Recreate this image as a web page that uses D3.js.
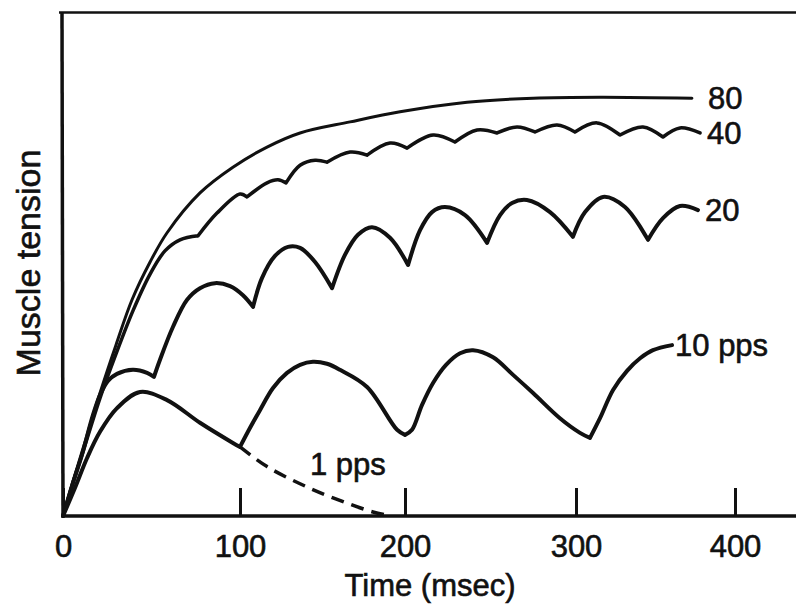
<!DOCTYPE html>
<html>
<head>
<meta charset="utf-8">
<script src="https://cdn.jsdelivr.net/npm/d3@7"></script>
<style>
    body { margin: 0; background: #fff; }
    text { font-family: "Liberation Sans", Arial, sans-serif; fill: #111; stroke: #111; stroke-width: 0.6px; }
</style>
</head>
<body>
<div id="chart-area"></div>
<script>
// time axis (msec)
const timeTicks = [0, 100, 200, 300, 400]

// muscle tension traces, [time msec, tension in arbitrary units]
// each inner list runs from one stimulus cusp to the next
const tension80 = [
    [[0, 0], [5.1, 6.2], [10.7, 12.7], [20.9, 24.4], [29.9, 33.9], [39.0, 42.9], [49.2, 50.4], [58.8, 56.2],
     [77.4, 64.1], [96.0, 69.2], [116.4, 73.2], [136.4, 76.0], [166.7, 78.2], [197.0, 80.2], [236.3, 82.1],
     [274.9, 82.9], [315.1, 83.1], [372.9, 82.9]]
]
const tension40 = [
    [[0, 0], [5.1, 6.0], [10.7, 12.1], [20.9, 23.4], [29.9, 32.1], [39.5, 40.7], [49.2, 48.0], [57.6, 52.6], [66.1, 54.8], [76.3, 55.6]],
    [[76.3, 55.6], [87.0, 60.1], [100.0, 63.9], [104.2, 63.3]],
    [[104.2, 63.3], [116.4, 66.1], [123.0, 66.7], [127.9, 66.1]],
    [[127.9, 66.1], [136.4, 69.6], [145.5, 70.6], [152.7, 70.2]],
    [[152.7, 70.2], [166.7, 72.2], [177.0, 71.6]],
    [[177.0, 71.6], [190.9, 74.0], [201.2, 73.0]],
    [[201.2, 73.0], [216.4, 75.6], [229.2, 74.2]],
    [[229.2, 74.2], [242.1, 76.6], [253.8, 76.0]],
    [[253.8, 76.0], [265.5, 77.2], [276.0, 76.2]],
    [[276.0, 76.2], [288.9, 77.6], [299.4, 76.2]],
    [[299.4, 76.2], [313.2, 78.0], [327.7, 75.6]],
    [[327.7, 75.6], [342.1, 77.2], [354.7, 75.2]],
    [[354.7, 75.2], [365.4, 77.0], [378.0, 76.0]]
]
const tension20 = [
    [[0, 0], [5.1, 6.0], [10.7, 12.1], [16.9, 20.0], [20.9, 24.0], [25.4, 26.8], [30.5, 28.2], [39.5, 29.0], [47.5, 28.4], [51.4, 27.6]],
    [[51.4, 27.6], [54.8, 31.0], [62.1, 37.5], [70.1, 42.9], [77.4, 45.2], [85.9, 46.2], [94.4, 45.6], [101.8, 43.8], [107.9, 41.5]],
    [[107.9, 41.5], [113.3, 47.2], [121.2, 51.6], [129.1, 53.4], [136.4, 53.2], [145.5, 50.4], [155.8, 45.2]],
    [[155.8, 45.2], [163.6, 51.8], [171.5, 55.8], [180.0, 57.3], [190.9, 55.2], [201.8, 49.8]],
    [[201.8, 49.8], [208.8, 56.7], [215.8, 60.3], [223.4, 61.3], [235.1, 59.7], [248.0, 54.2]],
    [[248.0, 54.2], [255.6, 59.7], [262.6, 62.1], [271.3, 62.7], [284.8, 60.3], [298.2, 55.4]],
    [[298.2, 55.4], [305.7, 60.3], [317.0, 63.3], [330.8, 61.3], [345.3, 54.8]],
    [[345.3, 54.8], [354.7, 59.1], [365.4, 61.5], [376.7, 60.7]]
]
const tension10 = [
    [[0, 0], [6.8, 5.6], [13.6, 11.5], [20.9, 16.7], [30.5, 21.4], [43.5, 24.6], [58.8, 23.0], [77.4, 18.5], [96.0, 14.5], [100.0, 13.7]],
    [[100.0, 13.7], [106.1, 17.5], [112.1, 21.0], [120.0, 25.4], [128.5, 28.4], [136.4, 30.0], [144.2, 30.6], [152.7, 30.2],
     [160.6, 29.0], [177.0, 25.6], [195.2, 17.1], [200.0, 16.1]],
    [[200.0, 16.1], [204.1, 17.1], [209.9, 22.0], [216.4, 26.4], [224.0, 30.0], [232.2, 32.3], [239.8, 32.9], [251.5, 31.5],
     [263.2, 28.0], [274.9, 24.4], [290.6, 19.4], [302.5, 16.5], [308.8, 15.5]],
    [[308.8, 15.5], [315.1, 19.4], [323.3, 25.0], [332.1, 28.8], [340.3, 31.3], [348.4, 32.9], [360.4, 33.9]]
]
// single twitch, after the point where it leaves the 10 pps trace
const tension1 = [
    [[100.0, 13.7], [116.4, 9.8], [136.4, 6.4], [156.4, 3.6], [180.6, 0.8], [191.5, 0]]
]

const seriesLabels = ["80", "40", "20", "10 pps"]
const singleLabel = "1 pps"

const MARGIN = { LEFT: 63, RIGHT: 0, TOP: 12, BOTTOM: 88 }
const WIDTH = 796 - MARGIN.LEFT - MARGIN.RIGHT
const HEIGHT = 604 - MARGIN.TOP - MARGIN.BOTTOM

const svg = d3.select("#chart-area").append("svg")
    .attr("width", WIDTH + MARGIN.LEFT + MARGIN.RIGHT)
    .attr("height", HEIGHT + MARGIN.TOP + MARGIN.BOTTOM)

const g = svg.append("g")
    .attr("transform", `translate(${MARGIN.LEFT}, ${MARGIN.TOP})`)

// the hand drawn time ticks are not evenly spaced, so the scale goes through each of them
const x = d3.scaleLinear()
    .domain(timeTicks)
    .range([0, 177, 342, 513, 672])

const y = d3.scaleLinear()
    .domain([0, 100])
    .range([HEIGHT, 0])

const line = d3.line()
    .x(d => x(d[0]))
    .y(d => y(d[1]))
    .curve(d3.curveCatmullRom.alpha(0.5))

const tracePath = segs => segs.map(s => line(s)).join("")

// frame
g.append("line")
    .attr("x1", -4).attr("x2", WIDTH)
    .attr("y1", 0.5).attr("y2", 0.5)
    .attr("stroke", "#111").attr("stroke-width", 2.5)
g.append("line")
    .attr("x1", -1).attr("x2", 0)
    .attr("y1", 0).attr("y2", HEIGHT + 1.5)
    .attr("stroke", "#111").attr("stroke-width", 3.5)

// X axis
const xAxisCall = d3.axisBottom(x)
    .tickValues(timeTicks)
    .tickSizeInner(-28)
    .tickSizeOuter(0)
    .tickPadding(19)
    .tickFormat(d3.format("d"))

const xAxis = g.append("g")
    .attr("class", "x axis")
    .attr("transform", `translate(0, ${HEIGHT})`)
    .call(xAxisCall)
xAxis.select(".domain").remove()
xAxis.selectAll(".tick line")
    .attr("stroke", "#111")
    .attr("stroke-width", 3)
xAxis.selectAll(".tick text")
    .attr("font-size", "31px")
    .attr("font-family", "Liberation Sans, Arial, sans-serif")
    .attr("fill", "#111")
xAxis.append("line")
    .attr("x1", 0).attr("x2", WIDTH)
    .attr("stroke", "#111")
    .attr("stroke-width", 3.5)

// traces
const traces = [tension80, tension40, tension20, tension10]
const widths = [3, 3.5, 4, 4]

g.selectAll("path.trace")
    .data(traces)
    .enter().append("path")
    .attr("class", "trace")
    .attr("d", d => tracePath(d))
    .attr("fill", "none")
    .attr("stroke", "#111")
    .attr("stroke-width", (d, i) => widths[i])
    .attr("stroke-linejoin", "round")
    .attr("stroke-linecap", "round")

g.append("path")
    .attr("class", "trace single")
    .attr("d", tracePath(tension1))
    .attr("fill", "none")
    .attr("stroke", "#111")
    .attr("stroke-width", 3.5)
    .attr("stroke-dasharray", "13,8")

// end labels
const labelDx = [16, 7, 7, 3]
g.selectAll("text.end-label")
    .data(traces)
    .enter().append("text")
    .attr("class", "end-label")
    .attr("x", (d, i) => {
        const seg = d[d.length - 1]
        return x(seg[seg.length - 1][0]) + labelDx[i]
    })
    .attr("y", d => {
        const seg = d[d.length - 1]
        return y(seg[seg.length - 1][1])
    })
    .attr("dy", "0.36em")
    .attr("font-size", "31px")
    .text((d, i) => seriesLabels[i])

g.append("text")
    .attr("x", x(142.4))
    .attr("y", y(8.1))
    .attr("font-size", "31px")
    .text(singleLabel)

// X label
g.append("text")
    .attr("class", "x axis-label")
    .attr("x", 367)
    .attr("y", HEIGHT + 80)
    .attr("font-size", "31px")
    .attr("text-anchor", "middle")
    .text("Time (msec)")

// Y label
g.append("text")
    .attr("class", "y axis-label")
    .attr("transform", "rotate(-90)")
    .attr("x", -251)
    .attr("y", -23)
    .attr("font-size", "34px")
    .attr("text-anchor", "middle")
    .text("Muscle tension")
</script>
</body>
</html>
